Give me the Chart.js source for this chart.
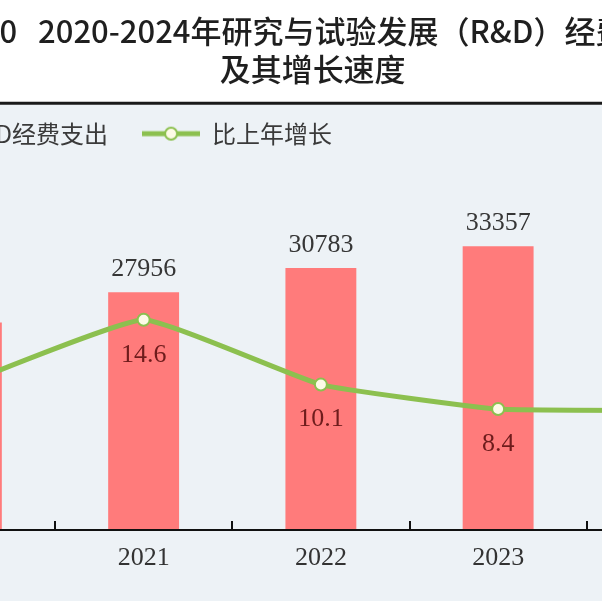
<!DOCTYPE html>
<html>
<head>
<meta charset="utf-8">
<script src="https://cdn.jsdelivr.net/npm/chart.js@4"></script>
<style>
  html, body { margin: 0; padding: 0; background: #ffffff; overflow: hidden; width: 602px; height: 601px; }
  #wrap { position: absolute; left: -140px; top: 0; width: 912px; height: 601px; }
</style>
</head>
<body>
<div id="wrap"><canvas id="c"></canvas></div>
<script>
// ---- data ----
const categories = ['2020', '2021', '2022', '2023', '2024'];
const rdSpending = [24393, 27956, 30783, 33357, 36130];
const growthRate = [10.2, 14.6, 10.1, 8.4, 8.3];
const titleLines = ['  图10   2020-2024年研究与试验发展（R&D）经费支出', '及其增长速度'];
const seriesNames = ['R&D经费支出', '比上年增长'];

// ---- styles ----
const BAR_COLOR = '#ff7b7b';
const LINE_COLOR = '#8cc04f';
const POINT_FILL = '#fdfbe6';
const PANEL_BG = '#edf2f6';
const NUM_FONT = "'Liberation Serif', 'DejaVu Serif', serif";
const CJK_FONT = "'Noto Sans CJK SC', 'Noto Sans', sans-serif";

function makeLineIcon() {
  const c = document.createElement('canvas');
  c.width = 58; c.height = 18;
  const g = c.getContext('2d');
  g.strokeStyle = LINE_COLOR; g.lineWidth = 5;
  g.beginPath(); g.moveTo(0, 9); g.lineTo(58, 9); g.stroke();
  g.beginPath(); g.arc(29, 9, 6, 0, Math.PI * 2);
  g.fillStyle = POINT_FILL; g.fill();
  g.lineWidth = 2; g.stroke();
  return c;
}
function makeBarIcon() {
  const c = document.createElement('canvas');
  c.width = 40; c.height = 22;
  const g = c.getContext('2d');
  g.fillStyle = BAR_COLOR; g.fillRect(0, 0, 40, 22);
  return c;
}
const lineIcon = makeLineIcon();
const barIcon = makeBarIcon();

const panelPlugin = {
  id: 'panel',
  beforeDraw(chart) {
    const { ctx, width, height } = chart;
    const sepY = chart.legend.top + 15.5;
    ctx.save();
    ctx.fillStyle = '#ffffff';
    ctx.fillRect(0, 0, width, height);
    ctx.fillStyle = PANEL_BG;
    ctx.fillRect(0, sepY, width, height - sepY);
    ctx.strokeStyle = '#1a1a1a';
    ctx.lineWidth = 3;
    ctx.beginPath(); ctx.moveTo(0, sepY); ctx.lineTo(width, sepY); ctx.stroke();
    ctx.restore();
  }
};

const ticksPlugin = {
  id: 'upTicks',
  afterDatasetsDraw(chart) {
    const { ctx, scales: { x }, chartArea } = chart;
    ctx.save();
    ctx.strokeStyle = '#111111';
    ctx.lineWidth = 2;
    for (let i = 0; i <= categories.length; i++) {
      const px = Math.round(x.getPixelForValue(i - 0.5));
      ctx.beginPath();
      ctx.moveTo(px, chartArea.bottom - 9);
      ctx.lineTo(px, chartArea.bottom);
      ctx.stroke();
    }
    ctx.restore();
  }
};

const labelPlugin = {
  id: 'valueLabels',
  afterDatasetsDraw(chart) {
    const { ctx } = chart;
    ctx.save();
    ctx.font = '26px ' + NUM_FONT;
    ctx.textAlign = 'center';
    ctx.textBaseline = 'middle';
    const barMeta = chart.getDatasetMeta(1);
    barMeta.data.forEach((el, i) => {
      ctx.fillStyle = '#363636';
      ctx.fillText(String(rdSpending[i]), el.x, el.y - 23);
    });
    const lineMeta = chart.getDatasetMeta(0);
    lineMeta.data.forEach((el, i) => {
      ctx.fillStyle = '#6e1c1c';
      ctx.fillText(growthRate[i].toFixed(1), el.x, el.y + 35);
    });
    ctx.restore();
  }
};

new Chart(document.getElementById('c'), {
  data: {
    labels: categories,
    datasets: [
      {
        type: 'line',
        label: seriesNames[1],
        data: growthRate,
        yAxisID: 'y1',
        order: 0,
        borderColor: LINE_COLOR,
        borderWidth: 5,
        tension: 0.12,
        pointRadius: 6,
        pointBorderWidth: 2,
        pointBackgroundColor: POINT_FILL,
        pointBorderColor: LINE_COLOR,
        fill: false
      },
      {
        type: 'bar',
        label: seriesNames[0],
        data: rdSpending,
        yAxisID: 'y',
        order: 1,
        backgroundColor: BAR_COLOR,
        borderWidth: 0,
        barPercentage: 0.4,
        categoryPercentage: 1.0
      }
    ]
  },
  options: {
    responsive: true,
    maintainAspectRatio: false,
    animation: false,
    layout: { padding: { left: 0, right: 6.75, top: 0, bottom: 13.8 } },
    plugins: {
      title: {
        display: true,
        text: titleLines,
        color: '#1f1f1f',
        font: { family: CJK_FONT, size: 31, weight: '500', lineHeight: 1.22 },
        padding: { top: 12, bottom: 0 }
      },
      legend: {
        display: true,
        position: 'top',
        align: 'start',
        labels: {
          usePointStyle: true,
          pointStyleWidth: 58,
          padding: 34,
          color: '#3a3a3a',
          font: { family: CJK_FONT, size: 24 },
          generateLabels() {
            return [
              { text: seriesNames[0], pointStyle: barIcon, fillStyle: BAR_COLOR, strokeStyle: BAR_COLOR, lineWidth: 0, hidden: false, datasetIndex: 1, fontColor: '#3a3a3a' },
              { text: seriesNames[1], pointStyle: lineIcon, fillStyle: POINT_FILL, strokeStyle: LINE_COLOR, lineWidth: 0, hidden: false, datasetIndex: 0, fontColor: '#3a3a3a' }
            ];
          }
        }
      },
      tooltip: { enabled: false }
    },
    scales: {
      x: {
        type: 'category',
        offset: true,
        grid: { display: false, drawTicks: false },
        border: { display: true, color: '#111111', width: 2 },
        ticks: { color: '#333333', padding: 13, font: { family: NUM_FONT, size: 26 } }
      },
      y: {
        type: 'linear',
        position: 'left',
        min: 0,
        max: 44000,
        afterFit(scale) { scale.width = 17.75; },
        ticks: { display: false, stepSize: 10000 },
        border: { display: false },
        grid: {
          drawTicks: false,
          lineWidth: 2,
          color: (ctx) => (ctx.tick && ctx.tick.value % 10000 === 0 && ctx.tick.value > 0) ? 'rgba(255,255,255,0.95)' : 'rgba(0,0,0,0)'
        }
      },
      y1: {
        type: 'linear',
        position: 'right',
        display: false,
        min: 0,
        max: 26
      }
    }
  },
  plugins: [panelPlugin, ticksPlugin, labelPlugin]
});
</script>
</body>
</html>
